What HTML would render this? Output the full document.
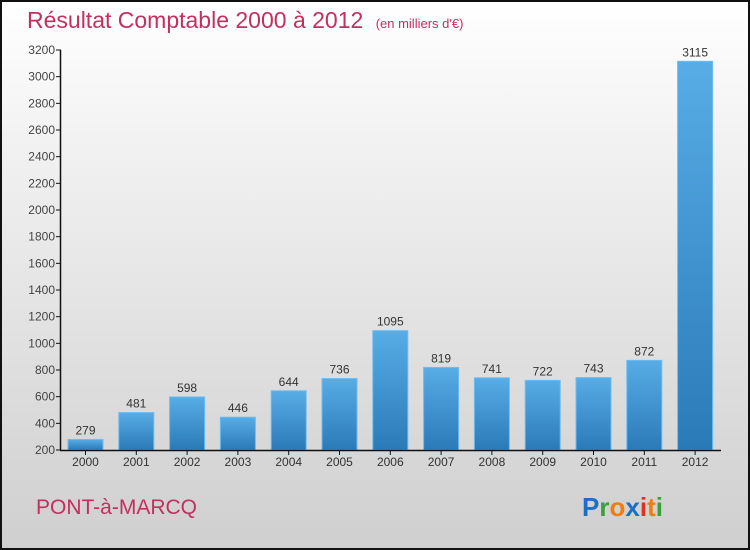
<!DOCTYPE html>
<html><head><meta charset="utf-8"><style>
body{margin:0}
#c{width:750px;height:550px;position:relative;box-sizing:border-box;border:2px solid #111;background:linear-gradient(#ffffff,#f2f2f2 25%,#cfcfcf);font-family:"Liberation Sans",sans-serif;overflow:hidden}
</style></head><body>
<div id="c">
<svg width="750" height="550" style="position:absolute;left:-2px;top:-2px">
<defs><linearGradient id="bg" x1="0" y1="0" x2="0" y2="1"><stop offset="0" stop-color="#58ade6"/><stop offset="1" stop-color="#2a7ab8"/></linearGradient></defs>
<text x="27" y="28" font-size="23" fill="#c2305e">Résultat Comptable 2000 à 2012 <tspan font-size="13" dx="6">(en milliers d'€)</tspan></text>
<g id="plot"></g>
<text x="36" y="514" font-size="21" fill="#c2305e">PONT-à-MARCQ</text>
<g font-size="26" font-weight="bold"><text x="582" y="516"><tspan fill="#1d6fc4">P</tspan><tspan fill="#3aa03a">r</tspan><tspan fill="#f07d10">o</tspan><tspan fill="#1d6fc4">x</tspan><tspan fill="#e03020">i</tspan><tspan fill="#f07d10">t</tspan><tspan fill="#3aa03a">i</tspan></text></g>
</svg>
</div>
<script>
const categories=["2000","2001","2002","2003","2004","2005","2006","2007","2008","2009","2010","2011","2012"];
const values=[279,481,598,446,644,736,1095,819,741,722,743,872,3115];
const yTicks=[200,400,600,800,1000,1200,1400,1600,1800,2000,2200,2400,2600,2800,3000,3200];
const ns="http://www.w3.org/2000/svg";
const g=document.getElementById('plot');
const y=v=>450-(v-200)*400/3000;
const x=i=>85.5+i*50.8;
function mk(t,a,txt){const e=document.createElementNS(ns,t);for(const k in a)e.setAttribute(k,a[k]);if(txt!==undefined)e.textContent=txt;g.appendChild(e);return e;}
yTicks.forEach(v=>{
 const l=mk('line',{x1:56,x2:61,y1:y(v),y2:y(v),stroke:'#111'});
 
 
 const t=mk('text',{x:55,y:y(v)+4,'text-anchor':'end','font-size':12,fill:'#444'},v);
 
 
});
categories.forEach((c,i)=>{
 const v=values[i];
 const r=mk('rect',{x:x(i)-17.5,y:y(v),width:35,height:450-y(v),fill:'url(#bg)',stroke:'#6cbcf0','stroke-width':1});
 
 
 const t=mk('text',{x:x(i),y:y(v)-5,'text-anchor':'middle','font-size':12,fill:'#333'},v);
 
 
 const xt=mk('line',{x1:x(i),x2:x(i),y1:450,y2:455,stroke:'#111'});
 
 
 const xl=mk('text',{x:x(i),y:466,'text-anchor':'middle','font-size':12,fill:'#333'},c);
 
 
});
const ya=mk('line',{x1:60.5,x2:60.5,y1:50,y2:450.5,stroke:'#111','stroke-width':1.5});


const xa=mk('line',{x1:60,x2:721,y1:450.5,y2:450.5,stroke:'#111','stroke-width':1.5});


</script>
</body></html>
